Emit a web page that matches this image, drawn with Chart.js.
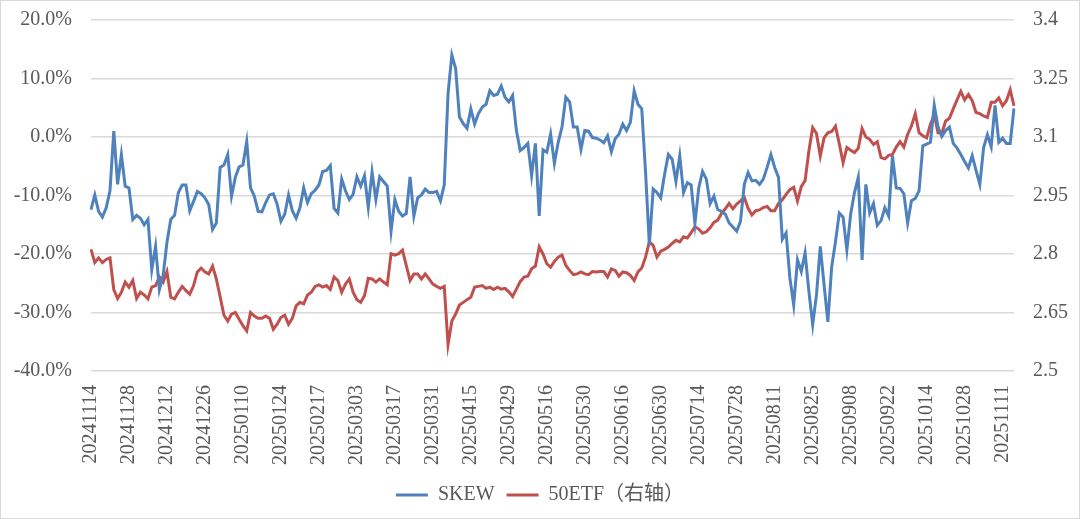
<!DOCTYPE html>
<html>
<head>
<meta charset="utf-8">
<script src="https://cdn.jsdelivr.net/npm/chart.js@4/dist/chart.umd.min.js"></script>
<style>
    html, body { margin: 0; padding: 0; background: #fff; }
</style>
</head>
<body>
<canvas id="grafico" width="1080" height="519"></canvas>
<script>
// trading days, one list per month
const months = ["202411", "202412", "202501", "202502", "202503", "202504", "202505",
    "202506", "202507", "202508", "202509", "202510", "202511"];
const days = [
    [14, 15, 18, 19, 20, 21, 22, 25, 26, 27, 28, 29],
    [2, 3, 4, 5, 6, 9, 10, 11, 12, 13, 16, 17, 18, 19, 20, 23, 24, 25, 26, 27, 30, 31],
    [2, 3, 6, 7, 8, 9, 10, 13, 14, 15, 16, 17, 20, 21, 22, 23, 24, 27],
    [5, 6, 7, 10, 11, 12, 13, 14, 17, 18, 19, 20, 21, 24, 25, 26, 27, 28],
    [3, 4, 5, 6, 7, 10, 11, 12, 13, 14, 17, 18, 19, 20, 21, 24, 25, 26, 27, 28, 31],
    [1, 2, 3, 7, 8, 9, 10, 11, 14, 15, 16, 17, 18, 21, 22, 23, 24, 25, 28, 29, 30],
    [6, 7, 8, 9, 12, 13, 14, 15, 16, 19, 20, 21, 22, 23, 26, 27, 28, 29, 30],
    [3, 4, 5, 6, 9, 10, 11, 12, 13, 16, 17, 18, 19, 20, 23, 24, 25, 26, 27, 30],
    [1, 2, 3, 4, 7, 8, 9, 10, 11, 14, 15, 16, 17, 18, 21, 22, 23, 24, 25, 28, 29, 30, 31],
    [1, 4, 5, 6, 7, 8, 11, 12, 13, 14, 15, 18, 19, 20, 21, 22, 25, 26, 27, 28, 29],
    [1, 2, 3, 4, 5, 8, 9, 10, 11, 12, 15, 16, 17, 18, 19, 22, 23, 24, 25, 26, 29, 30],
    [9, 10, 13, 14, 15, 16, 17, 20, 21, 22, 23, 24, 27, 28, 29, 30, 31],
    [3, 4, 5, 6, 7, 10, 11, 12, 13, 14]
];

// SKEW (%), left axis
const skew = [
    -12.4, -9.9, -12.7, -13.7, -12.1, -9.2, 1.0, -8.1, -3.0, -8.4,
    -8.7, -14.1, -13.4, -13.9, -15.0, -14.1, -22.7, -18.7, -26.1, -23.6,
    -18.0, -14.1, -13.4, -9.5, -8.2, -8.2, -12.6, -11.0, -9.3, -9.7,
    -10.4, -11.6, -15.8, -14.7, -5.2, -4.8, -3.0, -10.1, -6.9, -5.1,
    -4.8, -0.8, -8.7, -10.1, -12.7, -12.8, -11.2, -9.9, -9.7, -11.5,
    -14.4, -13.2, -9.9, -12.6, -13.9, -12.1, -8.7, -11.2, -9.7, -9.1,
    -8.2, -5.9, -5.7, -4.9, -12.2, -13.0, -7.2, -9.2, -10.7, -9.8,
    -6.8, -8.4, -6.6, -12.0, -6.0, -10.7, -6.8, -7.6, -8.4, -16.1,
    -10.7, -12.7, -13.5, -13.1, -6.8, -13.5, -10.4, -9.9, -8.9, -9.5,
    -9.5, -9.3, -10.9, -8.2, 7.4, 14.0, 11.7, 3.4, 2.3, 1.5,
    4.8, 2.2, 4.0, 5.1, 5.6, 7.9, 7.1, 7.3, 8.7, 6.8,
    6.0, 7.1, 1.1, -2.3, -1.8, -1.1, -6.6, -1.1, -13.5, -2.2,
    -2.6, 0.5, -4.5, -0.9, 1.7, 6.8, 6.0, 1.7, 1.7, -2.1,
    1.1, 1.0, -0.1, -0.2, -0.5, -1.0, 0.2, -2.5, -0.3, 0.5,
    2.2, 1.1, 2.5, 7.9, 5.6, 4.8, -6.0, -18.5, -8.9, -9.5,
    -10.4, -6.4, -3.0, -3.8, -7.6, -3.2, -9.5, -7.8, -8.2, -14.8,
    -8.7, -5.9, -7.2, -11.4, -10.1, -12.4, -12.7, -13.2, -14.7, -15.4,
    -16.1, -14.4, -8.1, -6.1, -7.5, -7.4, -8.1, -7.2, -5.2, -3.0,
    -5.2, -6.9, -17.5, -16.4, -24.1, -28.7, -21.0, -23.0, -19.8, -26.4,
    -32.1, -27.0, -18.7, -25.3, -31.6, -22.2, -17.9, -13.0, -13.7, -19.3,
    -13.2, -9.5, -6.9, -21.0, -8.1, -13.0, -11.4, -15.1, -14.3, -12.1,
    -13.5, -3.2, -8.7, -8.8, -9.7, -14.7, -10.9, -10.5, -9.2, -1.5,
    -1.2, -0.9, 5.4, 1.7, 0.1, 1.1, 1.7, -1.1, -1.9, -3.0,
    -4.2, -5.3, -3.2, -5.7, -8.1, -1.8, 0.4, -1.7, 5.4, -0.9,
    -0.2, -1.1, -1.1, 4.9
];

// 50ETF, right axis
const etf50 = [
    2.812, 2.778, 2.790, 2.778, 2.786, 2.790, 2.709, 2.686, 2.702, 2.728,
    2.715, 2.732, 2.686, 2.702, 2.695, 2.685, 2.715, 2.719, 2.741, 2.728,
    2.755, 2.689, 2.685, 2.702, 2.717, 2.706, 2.697, 2.719, 2.754, 2.764,
    2.754, 2.749, 2.769, 2.736, 2.690, 2.643, 2.628, 2.646, 2.650, 2.633,
    2.616, 2.603, 2.650, 2.641, 2.635, 2.635, 2.641, 2.635, 2.607, 2.620,
    2.637, 2.643, 2.620, 2.635, 2.667, 2.676, 2.672, 2.695, 2.702, 2.717,
    2.721, 2.715, 2.719, 2.709, 2.741, 2.732, 2.702, 2.723, 2.736, 2.702,
    2.683, 2.676, 2.693, 2.738, 2.736, 2.728, 2.736, 2.728, 2.721, 2.801,
    2.797, 2.801, 2.810, 2.771, 2.732, 2.749, 2.749, 2.736, 2.749, 2.736,
    2.723, 2.717, 2.712, 2.717, 2.568, 2.628, 2.646, 2.669, 2.676, 2.683,
    2.689, 2.715, 2.717, 2.719, 2.712, 2.715, 2.709, 2.715, 2.710, 2.712,
    2.703, 2.691, 2.710, 2.729, 2.741, 2.743, 2.762, 2.769, 2.818, 2.800,
    2.775, 2.766, 2.781, 2.792, 2.797, 2.771, 2.758, 2.747, 2.749, 2.754,
    2.749, 2.747, 2.755, 2.754, 2.755, 2.755, 2.741, 2.762, 2.758, 2.743,
    2.754, 2.752, 2.745, 2.732, 2.754, 2.764, 2.792, 2.831, 2.822, 2.792,
    2.807, 2.812, 2.818, 2.827, 2.835, 2.831, 2.844, 2.841, 2.855, 2.870,
    2.864, 2.853, 2.857, 2.867, 2.881, 2.887, 2.904, 2.916, 2.930, 2.916,
    2.928, 2.936, 2.945, 2.917, 2.900, 2.911, 2.913, 2.919, 2.922, 2.911,
    2.911, 2.930, 2.939, 2.953, 2.965, 2.971, 2.936, 2.973, 2.988, 3.064,
    3.124, 3.109, 3.051, 3.098, 3.111, 3.114, 3.128, 3.083, 3.034, 3.073,
    3.066, 3.060, 3.071, 3.122, 3.100, 3.094, 3.081, 3.088, 3.047, 3.044,
    3.053, 3.055, 3.074, 3.088, 3.074, 3.107, 3.128, 3.160, 3.111, 3.103,
    3.098, 3.133, 3.157, 3.111, 3.109, 3.141, 3.148, 3.172, 3.195, 3.217,
    3.195, 3.209, 3.193, 3.163, 3.160, 3.154, 3.150, 3.189, 3.189, 3.200,
    3.180, 3.193, 3.221, 3.180
];

const labelEvery = 10;

// build the date strings (yyyymmdd)
const dates = [];
months.forEach((m, i) => {
    days[i].forEach((d) => {
        dates.push(m + String(d).padStart(2, "0"));
    });
});

const textColor = "#595959";
const fontFamily = "'Liberation Serif', 'Noto Sans CJK SC', serif";

// white background + thin frame around the picture
const frame = {
    id: "frame",
    beforeDraw: (chart) => {
        const c = chart.ctx;
        c.save();
        c.fillStyle = "#ffffff";
        c.fillRect(0, 0, chart.width, chart.height);
        c.restore();
    },
    afterDraw: (chart) => {
        const c = chart.ctx;
        c.save();
        c.strokeStyle = "#d9d9d9";
        c.lineWidth = 1;
        c.strokeRect(0.5, 0.5, chart.width - 1, chart.height - 1);
        c.restore();
    },
};

// fixed width for the value axes, no extra top/bottom room from tick padding
const fixAxis = (w) => (s) => {
    s.width = w;
    s.paddingTop = 0;
    s.paddingBottom = 0;
};

const ctx = document.getElementById("grafico").getContext("2d");
new Chart(ctx, {
    type: "line",
    data: {
        labels: dates,
        datasets: [
            {
                label: "SKEW",
                data: skew,
                yAxisID: "y",
                borderColor: "#4f81bd",
                backgroundColor: "#4f81bd",
                borderWidth: 3,
                pointRadius: 0,
                tension: 0,
            },
            {
                label: "50ETF（右轴）",
                data: etf50,
                yAxisID: "y1",
                borderColor: "#c0504d",
                backgroundColor: "#c0504d",
                borderWidth: 3,
                pointRadius: 0,
                tension: 0,
            },
        ],
    },
    options: {
        responsive: false,
        animation: false,
        layout: { padding: { top: 20, left: 0, right: 0, bottom: 4 } },
        plugins: {
            tooltip: { enabled: false },
            legend: {
                position: "bottom",
                labels: {
                    usePointStyle: true,
                    pointStyle: "line",
                    pointStyleWidth: 32,
                    color: textColor,
                    font: { family: fontFamily, size: 20 },
                    padding: 12,
                },
            },
        },
        scales: {
            x: {
                offset: false,
                grid: { display: false, drawTicks: false },
                border: { display: false },
                ticks: {
                    autoSkip: false,
                    minRotation: 90,
                    maxRotation: 90,
                    padding: 14,
                    color: textColor,
                    font: { family: fontFamily, size: 20 },
                    callback: function (val, i) {
                        return i % labelEvery === 0 ? this.getLabelForValue(val) : "";
                    },
                },
                afterFit: (s) => { s.height = 102; },
            },
            y: {
                position: "left",
                min: -40,
                max: 20,
                grid: { color: "#d9d9d9", lineWidth: 1.5, drawTicks: false },
                border: { display: false },
                ticks: {
                    stepSize: 10,
                    padding: 19,
                    color: textColor,
                    font: { family: fontFamily, size: 20 },
                    callback: (v) => v.toFixed(1) + "%",
                },
                afterFit: fixAxis(91),
            },
            y1: {
                position: "right",
                min: 2.5,
                max: 3.4,
                grid: { display: false, drawTicks: false },
                border: { display: false },
                ticks: {
                    stepSize: 0.15,
                    padding: 19,
                    color: textColor,
                    font: { family: fontFamily, size: 20 },
                    callback: (v) => String(Number(v.toFixed(2))),
                },
                afterFit: fixAxis(66),
            },
        },
    },
    plugins: [frame],
});
</script>
</body>
</html>
